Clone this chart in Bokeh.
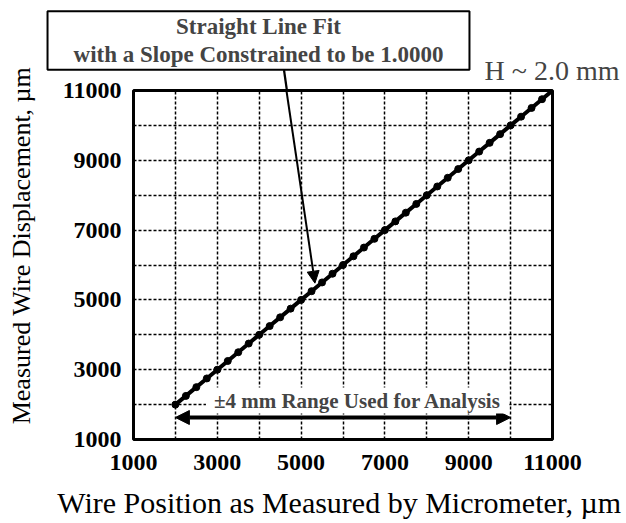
from bokeh.plotting import figure
from bokeh.models import FixedTicker, Label, Arrow, NormalHead, Range1d
from bokeh.embed import file_html
from bokeh.resources import INLINE

# ---- data ----
micrometer_um = [2000, 2250, 2500, 2750, 3000, 3250, 3500, 3750, 4000, 4250,
                 4500, 4750, 5000, 5250, 5500, 5750, 6000, 6250, 6500, 6750,
                 7000, 7250, 7500, 7750, 8000, 8250, 8500, 8750, 9000, 9250,
                 9500, 9750, 10000, 10250, 10500, 10750, 11000]
displacement_um = [2000, 2250, 2500, 2750, 3000, 3250, 3500, 3750, 4000, 4250,
                   4500, 4750, 5000, 5250, 5500, 5750, 6000, 6250, 6500, 6750,
                   7000, 7250, 7500, 7750, 8000, 8250, 8500, 8750, 9000, 9250,
                   9500, 9750, 10000, 10250, 10500, 10750, 11000]
tick_values = [1000, 3000, 5000, 7000, 9000, 11000]
grid_values = [2000, 3000, 4000, 5000, 6000, 7000, 8000, 9000, 10000]
range_start, range_end, range_y = 2000, 10000, 1630
fit_arrow = (4650, 11000, 5330, 5480)

FONT = "Liberation Serif"
W, H = 626, 523
B_LEFT, B_RIGHT, B_TOP, B_BOTTOM = 133, 74, 90, 84
NBSP = "\u00a0"

p = figure(width=W, height=H, output_backend="svg", toolbar_location=None,
           x_range=Range1d(1000, 11000), y_range=Range1d(1000, 11000),
           min_border_left=B_LEFT, min_border_right=B_RIGHT, min_border_top=B_TOP,
           min_border_bottom=B_BOTTOM)
p.background_fill_color = "white"
p.border_fill_color = "white"
p.outline_line_color = "black"
p.outline_line_width = 3

for ax in (p.xaxis, p.yaxis):
    ax.ticker = FixedTicker(ticks=tick_values)
    ax.axis_line_color = None
    ax.major_tick_line_color = None
    ax.minor_tick_line_color = None
    ax.major_tick_out = 0
    ax.major_tick_in = 0
    ax.major_label_text_font = FONT
    ax.major_label_text_font_size = "24px"
    ax.major_label_text_font_style = "bold"
    ax.major_label_text_color = "black"
    ax.axis_label_text_font = FONT
    ax.axis_label_text_font_style = "normal"
    ax.axis_label_text_color = "black"

p.xaxis.axis_label = "Wire Position as Measured by Micrometer,  µm"
p.xaxis.axis_label_text_font_size = "30px"
p.xaxis.major_label_standoff = 15
p.xaxis.axis_label_standoff = 13
p.yaxis.axis_label = NBSP * 7 + "Measured Wire Displacement,  µm"
p.yaxis.axis_label_text_font_size = "26px"
p.yaxis.major_label_standoff = 12
p.yaxis.axis_label_standoff = 24

for g in (p.xgrid, p.ygrid):
    g.ticker = FixedTicker(ticks=grid_values)
    g.grid_line_color = "black"
    g.grid_line_width = 1.5
    g.grid_line_dash = "3 2"

# data line with beads
p.line(micrometer_um, displacement_um, line_color="black", line_width=4)
p.scatter(micrometer_um, displacement_um, size=7, fill_color="black", line_color="black")

# fit annotation arrow (inside frame)
p.add_layout(Arrow(x_start=fit_arrow[0], y_start=fit_arrow[1], x_end=fit_arrow[2], y_end=fit_arrow[3],
                   line_color="black", line_width=2,
                   end=NormalHead(size=12, fill_color="black", line_color="black")))

# range arrow
p.add_layout(Arrow(x_start=range_start, y_start=range_y, x_end=range_end, y_end=range_y,
                   line_color="black", line_width=4,
                   start=NormalHead(size=14, fill_color="black", line_color="black"),
                   end=NormalHead(size=14, fill_color="black", line_color="black")))

p.add_layout(Label(x=6350, y=2117, text="±4 mm Range Used for Analysis",
                   text_font=FONT, text_font_size="21px", text_font_style="bold",
                   text_align="center", text_baseline="middle",
                   background_fill_color="white",
                   padding=dict(left=8, right=8, top=1, bottom=1)))

# short piece of the leader line between the box and the frame (side panel, not clipped)
p.add_layout(Label(x=285, y=80, x_units="canvas", y_units="canvas",
                   text=" ", text_font_size="1px",
                   text_align="center", text_baseline="middle", angle=0.14,
                   background_fill_color="black",
                   padding=dict(left=1, right=1, top=10, bottom=10)), "left")

# annotations above the frame (canvas pixel units)
p.add_layout(Label(x=258, y=40, x_units="canvas", y_units="canvas",
                   text="Straight Line Fit\nwith a Slope Constrained to be 1.0000",
                   text_font=FONT, text_font_size="23px", text_font_style="bold",
                   text_line_height=1.1,
                   text_align="center", text_baseline="middle",
                   background_fill_color="white",
                   border_line_color="black", border_line_width=2,
                   padding=dict(left=26, right=26, top=3, bottom=3)), "above")

p.add_layout(Label(x=619, y=70, x_units="canvas", y_units="canvas",
                   text="H ~ 2.0 mm", text_font=FONT,
                   text_font_size="28px", text_align="right", text_baseline="middle"), "above")

open("out.html", "w").write(file_html(p, INLINE))
